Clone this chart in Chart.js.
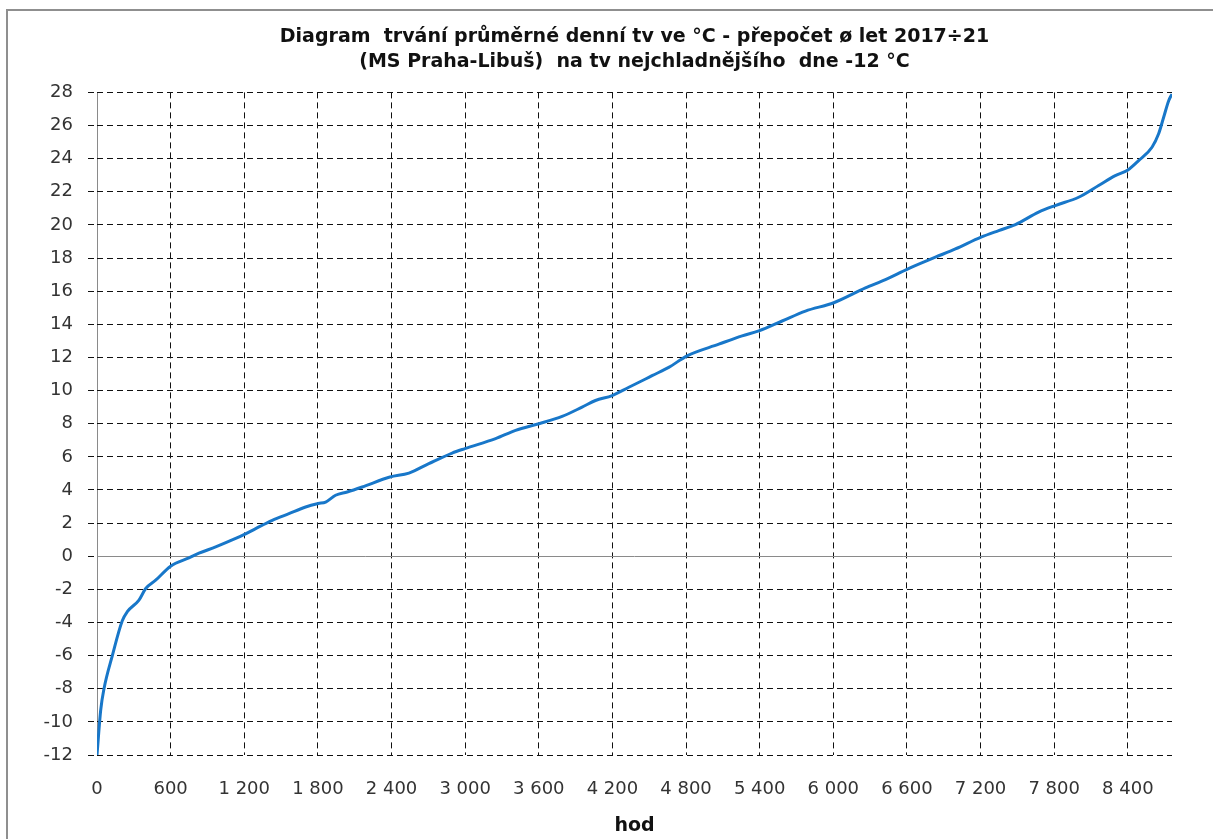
<!DOCTYPE html>
<html>
<head>
<meta charset="utf-8">
<script src="https://cdn.jsdelivr.net/npm/chart.js@4"></script>
<style>
html,body{margin:0;padding:0;background:#fff;overflow:hidden;}
#frame{position:absolute;left:6px;top:9px;width:1400px;height:1000px;border:2px solid #8f8f8f;box-sizing:border-box;}
#wrap{position:absolute;left:0;top:0;width:1213px;height:839px;}
</style>
</head>
<body>
<div id="frame"></div>
<div id="wrap"><canvas id="c" width="1213" height="839"></canvas></div>
<script>
// ---- data ----
const titleLines = ["Diagram  trvání průměrné denní tv ve °C - přepočet ø let 2017÷21", "(MS Praha-Libuš)  na tv nejchladnějšího  dne -12 °C"];
const xAxisTitle = "hod";
const hours = [0, 30, 57, 125, 206, 247, 342, 397, 478, 600, 749, 831, 967, 1130, 1189, 1293, 1428, 1564, 1700, 1803, 1863, 1944, 2039, 2161, 2387, 2542, 2704, 2894, 2998, 3248, 3411, 3601, 3790, 3953, 4062, 4198, 4334, 4470, 4523, 4659, 4809, 5067, 5257, 5393, 5583, 5773, 6004, 6262, 6425, 6609, 6832, 6995, 7204, 7348, 7484, 7673, 7809, 7999, 8162, 8298, 8401, 8488, 8597, 8651, 8692, 8733, 8760];
const temps = [-12, -9.3, -8, -6, -3.9, -3.35, -2.65, -1.95, -1.45, -0.6, -0.1, 0.18, 0.56, 1.07, 1.27, 1.67, 2.17, 2.57, 2.97, 3.18, 3.27, 3.68, 3.88, 4.18, 4.78, 5.02, 5.59, 6.23, 6.5, 7.1, 7.6, 8.0, 8.44, 9.0, 9.4, 9.7, 10.2, 10.7, 10.9, 11.4, 12.1, 12.8, 13.3, 13.6, 14.2, 14.8, 15.3, 16.2, 16.7, 17.35, 18.05, 18.55, 19.26, 19.66, 20.02, 20.77, 21.17, 21.67, 22.38, 22.98, 23.32, 23.88, 24.69, 25.5, 26.5, 27.5, 27.9];
const xTickValues = [0, 600, 1200, 1800, 2400, 3000, 3600, 4200, 4800, 5400, 6000, 6600, 7200, 7800, 8400];
const xTickLabels = ["0", "600", "1 200", "1 800", "2 400", "3 000", "3 600", "4 200", "4 800", "5 400", "6 000", "6 600", "7 200", "7 800", "8 400"];
const xMin = 0, xMax = 8760;
const yMin = -12, yMax = 28, yStep = 2;

const points = hours.map((h, i) => ({x: h, y: temps[i]}));
const tickFont = {family: "'DejaVu Sans', sans-serif", size: 18};
const dash = [6, 4];
const gridCol = (ctx) => ctx.tick && ctx.tick.value === 0 ? '#8a8a8a' : '#111';
const gridDash = (ctx) => ctx.tick && ctx.tick.value === 0 ? [] : dash;

new Chart(document.getElementById('c'), {
  type: 'line',
  data: {datasets: [{
    data: points,
    borderColor: '#1877c9',
    borderWidth: 3,
    pointRadius: 0,
    fill: false,
    cubicInterpolationMode: 'monotone'
  }]},
  options: {
    responsive: false,
    animation: false,
    layout: {padding: {left: 7, right: 41, top: 0, bottom: 0}},
    plugins: {
      legend: {display: false},
      tooltip: {enabled: false},
      title: {
        display: true,
        fullSize: false,
        text: titleLines,
        color: '#111',
        font: {family: "'DejaVu Sans', sans-serif", size: 19, weight: 'bold', lineHeight: 1.3},
        padding: {top: 25, bottom: 18}
      }
    },
    scales: {
      x: {
        type: 'linear',
        min: xMin, max: xMax,
        afterBuildTicks: (s) => { s.ticks = xTickValues.map(v => ({value: v})); },
        afterFit: (s) => { s.height = 839 - 755; },
        ticks: {
          color: '#333',
          font: tickFont,
          padding: 24,
          maxRotation: 0,
          autoSkip: false,
          callback: (v) => xTickLabels[xTickValues.indexOf(v)]
        },
        grid: {drawTicks: false, color: gridCol, lineWidth: 1},
        border: {display: false, dash: gridDash},
        title: {
          display: true,
          text: xAxisTitle,
          color: '#111',
          font: {family: "'DejaVu Sans', sans-serif", size: 19, weight: 'bold'},
          padding: {top: 0, bottom: 2}
        }
      },
      y: {
        type: 'linear',
        min: yMin, max: yMax,
        afterFit: (s) => { s.width = 90; },
        ticks: {stepSize: yStep, color: '#333', font: tickFont, padding: 15},
        grid: {
          drawTicks: true,
          tickLength: 9,
          tickBorderDash: dash,
          tickColor: '#111',
          color: gridCol,
          lineWidth: 1
        },
        border: {display: false, dash: gridDash}
      }
    }
  }
});
</script>
</body>
</html>
